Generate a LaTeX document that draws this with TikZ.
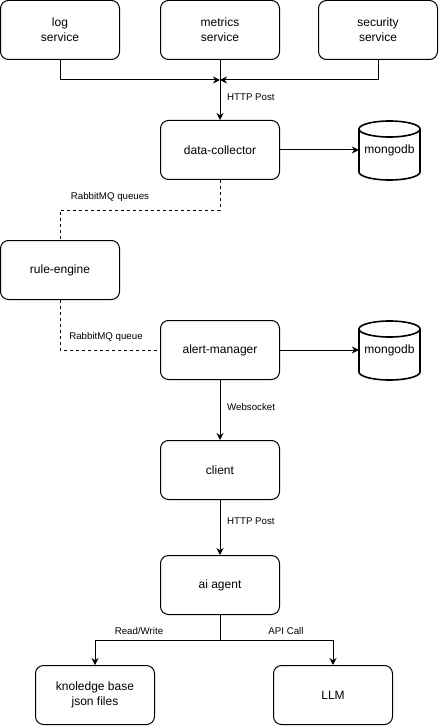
\documentclass[tikz,border=0pt]{standalone}
\usepackage{fontspec}
\setmainfont{Liberation Sans}
\usetikzlibrary{arrows.meta,calc}
\tikzset{
	box/.style={draw, rounded corners=8pt, line width=1pt, minimum width=119pt, minimum height=59pt, inner sep=0pt, align=center, font=\fontsize{12}{15}\selectfont},
	arr/.style={line width=1pt, -{Stealth[length=7pt,width=7pt]}},
	link/.style={line width=1pt},
	queue/.style={line width=0.8pt, dash pattern=on 3pt off 3pt},
	lbl/.style={font=\fontsize{9.7}{11}\selectfont, inner sep=0pt},
	db/.style={line width=1.6pt}
}
\def\dbcyl(#1)(#2){
	\draw[db] ($(#2)+(-30.5pt,21pt)$) -- ($(#2)+(-30.5pt,-22pt)$) arc (180:360:30.5pt and 8pt) -- ($(#2)+(30.5pt,21pt)$) arc (0:180:30.5pt and 8pt) -- cycle;
	\draw[db] ($(#2)+(-30.5pt,21pt)$) arc (180:360:30.5pt and 8pt);
	\node[font=\fontsize{12}{15}\selectfont, minimum width=61pt, minimum height=60pt, inner sep=0pt] (#1) at (#2) {mongodb};
}

\begin{document}
\begin{tikzpicture}[x=1pt,y=-1pt]
	\useasboundingbox (0,0) rectangle (439,727);

	% services
	\node[box] (log) at (60,30) {log\\service};
	\node[box] (metrics) at (220,30) {metrics\\service};
	\node[box] (security) at (378,30) {security\\service};
	\coordinate (join) at (220,80);

	\node[box] (collector) at (220,150) {data-collector};
	\dbcyl(mongoA)(389.5,150)

	\node[box] (rule) at (60,270) {rule-engine};

	\node[box] (alert) at (220,350) {alert-manager};
	\dbcyl(mongoB)(389.5,350)

	\node[box] (client) at (220,470) {client};
	\node[box] (agent) at (220,585) {ai agent};

	\node[box] (kb) at (95,695) {knoledge base\\json files};
	\node[box] (llm) at (333,695) {LLM};

	% connectors
	\draw[arr] (log.south) |- (join);
	\draw[arr] (security.south) |- (join);
	\draw[arr] (metrics.south) -- (collector.north);
	\node[lbl, anchor=west] (postA) at (227,97) {HTTP Post};
	\draw[arr] (collector.east) -- (mongoA.west);

	\draw[queue] (collector.south) -- ++(0,30) -| (rule.north);
	\node[lbl] (queues) at (110,197) {RabbitMQ queues};
	\draw[queue] (rule.south) |- (alert.west);
	\node[lbl] (queueone) at (106,337) {RabbitMQ queue};

	\draw[arr] (alert.east) -- (mongoB.west);
	\draw[arr] (alert.south) -- (client.north);
	\node[lbl, anchor=west] (socket) at (227,407) {Websocket};
	\draw[arr] (client.south) -- (agent.north);
	\node[lbl, anchor=west] (postB) at (227,521) {HTTP Post};

	\draw[arr] (agent.south) -- ++(0,25) -| (kb.north);
	\draw[arr] (agent.south) -- ++(0,25) -| (llm.north);
	\node[lbl] (rw) at (139,631) {Read/Write};
	\node[lbl] (api) at (286,631) {API Call};
\end{tikzpicture}
\end{document}
